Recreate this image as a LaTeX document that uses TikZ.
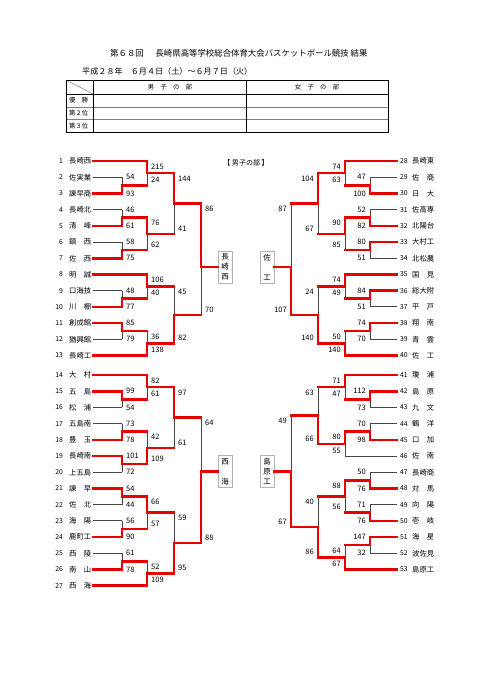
\documentclass[tikz,border=0pt]{standalone}
\usepackage{fontspec}
\setmainfont{Noto Sans CJK JP}
\usetikzlibrary{calc}
\pgfdeclarelayer{bg}
\pgfdeclarelayer{lo}
\pgfsetlayers{bg,lo,main}
\definecolor{redc}{RGB}{232,0,0}
\definecolor{grayc}{RGB}{70,70,70}
\tikzset{
  win/.style={draw=redc,line width=2.6pt,line cap=rect,line join=miter},
  lose/.style={draw=grayc,line width=0.9pt},
  lab/.style={font=\fontsize{7.5}{8}\selectfont,inner sep=0pt,text height=5.5pt,text depth=0pt},
  seed/.style={font=\fontsize{6.8}{8}\selectfont,inner sep=0pt,text height=5pt,text depth=0pt},
  team/.style={font=\fontsize{7.3}{8}\selectfont,inner sep=0pt,text height=6.3pt,text depth=0.6pt},
  cbox/.style={draw=gray!60,line width=0.6pt,fill=white,minimum width=14pt,minimum height=32pt,inner sep=0pt,align=center,font=\fontsize{7.5}{10}\selectfont},
  ttl/.style={inner sep=0pt,anchor=west},
  tb/.style={draw=black,line width=0.8pt},
  tbl/.style={draw=gray,line width=0.5pt},
  tlab/.style={font=\fontsize{6.3}{7}\selectfont,inner sep=0pt}
}
\def\labside{L}
\def\outy{}
\newcommand\hseg[3]{\ifnum#1=1 \draw[win] (#2) -- (#3);\else\begin{pgfonlayer}{lo}\draw[lose] (#2) -- (#3);\end{pgfonlayer}\fi}
\newcommand\bout[9]{%
  \coordinate (#1x) at (#2,0);
  \coordinate (#1a) at (#1x |- #3);
  \coordinate (#1b) at (#1x |- #4);
  \ifx\outy\empty \coordinate (#1) at ($(#1a)!0.5!(#1b)$);%
  \else \coordinate (#1) at (#2,\outy);\fi
  \if#7t
    \draw[win] (#3) -- (#1a) -- (#1);
    \hseg{#6}{#4}{#1b}
    \begin{pgfonlayer}{lo}\draw[lose] (#1b) -- (#1);\end{pgfonlayer}
  \else
    \draw[win] (#4) -- (#1b) -- (#1);
    \hseg{#5}{#3}{#1a}
    \begin{pgfonlayer}{lo}\draw[lose] (#1a) -- (#1);\end{pgfonlayer}
  \fi
  \pgfmathsetmacro\ldy{or(#2==122,#2==370)?0:5.5}
  \if\labside L\def\ldx{4}\def\lan{west}\else\def\ldx{-4}\def\lan{east}\fi
  \node[lab,anchor=\lan] (#1lt) at ($(#1a)+(\ldx,\ldy)$) {#8};
  \node[lab,anchor=\lan] (#1lb) at ($(#1b)+(\ldx,-\ldy)$) {#9};
}
\begin{document}
\begin{tikzpicture}[x=1pt,y=-1pt]
\begin{pgfonlayer}{bg}
\fill[white] (0,0) rectangle (481,680);
\end{pgfonlayer}
\useasboundingbox (0,0) rectangle (481,680);

% title
\node[ttl,font=\fontsize{8.4}{9}\selectfont] (title) at (110,53) {第６８回　\hspace{0.4em}長崎県高等学校総合体育大会バスケットボール競技 結果};
\node[ttl,font=\fontsize{8.1}{9}\selectfont] (date) at (82,71) {平成２８年　６月４日（土）～６月７日（火）};

% table
\draw[tbl] (66,107) -- (388,107);
\draw[tbl] (66,119.5) -- (388,119.5);
\draw[tbl] (66,80) -- (93,94);
\draw[tb] (66,94) -- (388,94);
\draw[tb] (93,80) -- (93,132);
\draw[tb] (246,80) -- (246,132);
\draw[tb] (66,80) rectangle (388,132);
\node[tlab] (hm) at (170,87) {男　子　の　部};
\node[tlab] (hf) at (317,87) {女　子　の　部};
\node[tlab,anchor=west] (r1) at (69,100.5) {優　勝};
\node[tlab,anchor=west] (r2) at (69,113) {第２位};
\node[tlab,anchor=west] (r3) at (69,125.7) {第３位};

\node[font=\fontsize{7}{8}\selectfont,inner sep=0pt] (sec) at (246,163) {【 男子の部 】};

% teams
\foreach \i/\nm in {1/長崎西,2/佐実業,3/諫早商,4/長崎北,5/清　峰,6/鎮　西,7/佐　西,8/明　誠,9/口海技,10/川　棚,11/創成館,12/猶興館,13/長崎工}{
  \pgfmathsetmacro\yy{161+16.2*(\i-1)}
  \node[seed,anchor=east] (sd\i) at (63,\yy) {\i};
  \node[team,anchor=west] (tm\i) at (69,\yy) {\nm};
  \coordinate (s\i) at (93,\yy);
}
\foreach \i/\nm in {14/大　村,15/五　島,16/松　浦,17/五島南,18/豊　玉,19/長崎南,20/上五島,21/諫　早,22/佐　北,23/海　陽,24/鹿町工,25/西　陵,26/南　山,27/西　海}{
  \pgfmathsetmacro\yy{375+16.2*(\i-14)}
  \node[seed,anchor=east] (sd\i) at (63,\yy) {\i};
  \node[team,anchor=west] (tm\i) at (69,\yy) {\nm};
  \coordinate (s\i) at (93,\yy);
}
\foreach \i/\nm in {28/長崎東,29/佐　商,30/日　大,31/佐高専,32/北陽台,33/大村工,34/北松農,35/国　見,36/総大附,37/平　戸,38/翔　南,39/青　雲,40/佐　工}{
  \pgfmathsetmacro\yy{161+16.2*(\i-28)}
  \node[seed,anchor=west] (sd\i) at (400,\yy) {\i};
  \node[team,anchor=west] (tm\i) at (412,\yy) {\nm};
  \coordinate (s\i) at (397,\yy);
}
\foreach \i/\nm in {41/瓊　浦,42/島　原,43/九　文,44/鶴　洋,45/口　加,46/佐　南,47/長崎商,48/対　馬,49/向　陽,50/壱　岐,51/海　星,52/波佐見,53/島原工}{
  \pgfmathsetmacro\yy{375+16.2*(\i-41)}
  \node[seed,anchor=west] (sd\i) at (400,\yy) {\i};
  \node[team,anchor=west] (tm\i) at (412,\yy) {\nm};
  \coordinate (s\i) at (397,\yy);
}

% center boxes
\node[cbox] (boxA) at (225,267) {長\\崎\\西};
\node[cbox] (boxC) at (267,267) {佐\\\mbox{}\\工};
\node[cbox] (boxB) at (225,471.5) {西\\\mbox{}\\海};
\node[cbox] (boxD) at (267,471.5) {島\\原\\工};

% left top
\def\labside{L}
\bout{m2}{122}{s2}{s3}{0}{0}{b}{54}{93}
\bout{m4}{122}{s4}{s5}{0}{0}{b}{46}{61}
\bout{m6}{122}{s6}{s7}{0}{0}{b}{58}{75}
\bout{n1}{147}{s1}{m2}{0}{1}{t}{215}{24}
\bout{n4}{147}{m4}{m6}{1}{1}{t}{76}{62}
\bout{p1}{174}{n1}{n4}{1}{1}{t}{144}{41}
\bout{m9}{122}{s9}{s10}{0}{0}{b}{48}{77}
\bout{m11}{122}{s11}{s12}{0}{0}{t}{85}{79}
\bout{n8}{147}{s8}{m9}{0}{1}{t}{106}{40}
\bout{n11}{147}{m11}{s13}{1}{0}{b}{36}{138}
\bout{p8}{174}{n8}{n11}{1}{1}{b}{45}{82}
\def\outy{267}
\bout{qA}{201}{p1}{p8}{1}{1}{t}{86}{70}
\def\outy{}
\draw[win] (qA) -- (boxA.west);

% left bottom
\bout{m15}{122}{s15}{s16}{0}{0}{t}{99}{54}
\bout{m17}{122}{s17}{s18}{0}{0}{b}{73}{78}
\bout{m19}{122}{s19}{s20}{0}{0}{t}{101}{72}
\bout{n14}{147}{s14}{m15}{0}{1}{t}{82}{61}
\bout{n17}{147}{m17}{m19}{1}{1}{b}{42}{109}
\bout{p14}{174}{n14}{n17}{1}{1}{t}{97}{61}
\bout{m21}{122}{s21}{s22}{0}{0}{t}{54}{44}
\bout{m23}{122}{s23}{s24}{0}{0}{b}{56}{90}
\bout{m25}{122}{s25}{s26}{0}{0}{b}{61}{78}
\bout{n21}{147}{m21}{m23}{1}{1}{t}{66}{57}
\bout{n25}{147}{m25}{s27}{1}{0}{b}{52}{109}
\bout{p21}{174}{n21}{n25}{1}{1}{b}{59}{95}
\def\outy{471.5}
\bout{qB}{201}{p14}{p21}{1}{1}{b}{64}{88}
\def\outy{}
\draw[win] (qB) -- (boxB.west);

% right top
\def\labside{R}
\bout{m29}{370}{s29}{s30}{0}{0}{b}{47}{100}
\bout{m31}{370}{s31}{s32}{0}{0}{b}{52}{82}
\bout{m33}{370}{s33}{s34}{0}{0}{t}{80}{51}
\bout{n28}{345}{s28}{m29}{0}{1}{t}{74}{63}
\bout{n31}{345}{m31}{m33}{1}{1}{t}{90}{85}
\bout{p28}{318}{n28}{n31}{1}{1}{t}{104}{67}
\bout{m36}{370}{s36}{s37}{0}{0}{t}{84}{51}
\bout{m38}{370}{s38}{s39}{0}{0}{t}{74}{70}
\bout{n35}{345}{s35}{m36}{0}{1}{t}{74}{49}
\bout{n38}{345}{m38}{s40}{1}{0}{b}{50}{140}
\bout{p35}{318}{n35}{n38}{1}{1}{b}{24}{140}
\def\outy{267}
\bout{qC}{291}{p28}{p35}{1}{1}{b}{87}{107}
\def\outy{}
\draw[win] (qC) -- (boxC.east);

% right bottom
\bout{m42}{370}{s42}{s43}{0}{0}{t}{112}{73}
\bout{m44}{370}{s44}{s45}{0}{0}{b}{70}{98}
\bout{n41}{345}{s41}{m42}{0}{1}{t}{71}{47}
\bout{n44}{345}{m44}{s46}{1}{0}{t}{80}{55}
\bout{p41}{318}{n41}{n44}{1}{1}{b}{63}{66}
\bout{m47}{370}{s47}{s48}{0}{0}{b}{50}{76}
\bout{m49}{370}{s49}{s50}{0}{0}{b}{71}{76}
\bout{m51}{370}{s51}{s52}{0}{0}{t}{147}{32}
\bout{n47}{345}{m47}{m49}{1}{1}{t}{88}{56}
\bout{n51}{345}{m51}{s53}{1}{0}{b}{64}{67}
\bout{p47}{318}{n47}{n51}{1}{1}{b}{40}{86}
\def\outy{471.5}
\bout{qD}{291}{p41}{p47}{1}{1}{b}{49}{67}
\def\outy{}
\draw[win] (qD) -- (boxD.east);
\end{tikzpicture}
\end{document}
